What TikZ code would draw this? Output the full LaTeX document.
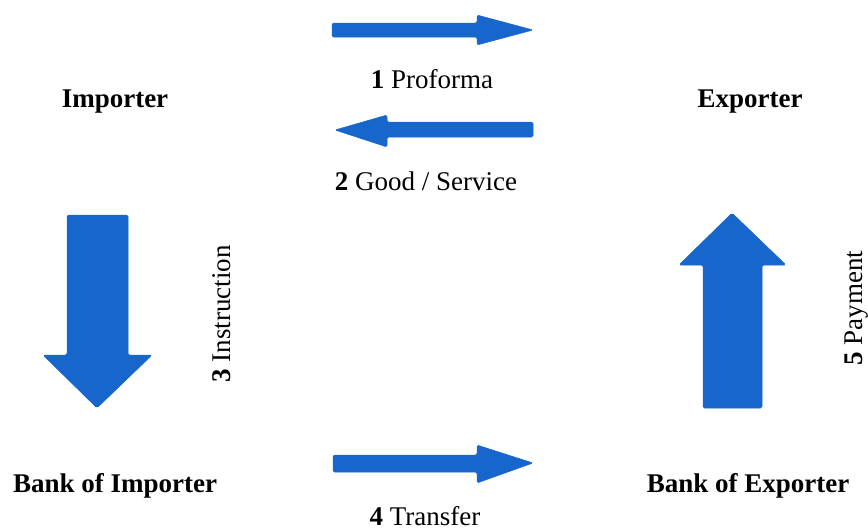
\documentclass[tikz,border=0pt]{standalone}
\usepackage{fontspec}
\setmainfont{Liberation Serif}
\usepackage{tikz}
\definecolor{flowblue}{RGB}{22,102,204}
\tikzset{
  party/.style={inner sep=0pt, anchor=base, font=\fontsize{27}{32}\selectfont\bfseries},
  step label/.style={inner sep=0pt, anchor=base, font=\fontsize{27}{32}\selectfont},
  blockarrow/.style={fill=flowblue, draw=flowblue, line width=0.5pt, rounded corners=1.5pt}
}

\begin{document}
\begin{tikzpicture}[x=1pt,y=-1pt]
\useasboundingbox (0,0) rectangle (868,531);

% parties
\node [party] (imp) at (115,107) {Importer};
\node [party] (exp) at (750,107) {Exporter};
\node [party] (bimp) at (115,492) {Bank of Importer};
\node [party] (bexp) at (748,492) {Bank of Exporter};

% 1 : importer -> exporter
\draw [blockarrow] (332,23) -- (477,23) -- (477,15) -- (533,30) -- (477,45) -- (477,37) -- (332,37) -- cycle;
\node [step label] (l1) at (432,88) {\textbf{1} Proforma};

% 2 : exporter -> importer
\draw [blockarrow] (533,122) -- (387,122) -- (387,115) -- (335,130) -- (387,147) -- (387,137) -- (533,137) -- cycle;
\node [step label] (l2) at (426,190) {\textbf{2} Good / Service};

% 3 : importer -> bank of importer
\draw [blockarrow] (67,215) -- (128,215) -- (128,355) -- (152,355) -- (97,408) -- (43,355) -- (67,355) -- cycle;
\node [step label, rotate=90] (l3) at (230,314) {\textbf{3} Instruction};

% 4 : bank of importer -> bank of exporter
\draw [blockarrow] (333,455) -- (477,455) -- (477,445) -- (533,463) -- (477,483) -- (477,472) -- (333,472) -- cycle;
\node [step label] (l4) at (425,525) {\textbf{4} Transfer};

% 5 : bank of exporter -> exporter
\draw [blockarrow] (703,408) -- (703,265) -- (679,265) -- (732,213) -- (786,265) -- (762,265) -- (762,408) -- cycle;
\node [step label, rotate=90] (l5) at (862,308) {\textbf{5} Payment};

\end{tikzpicture}
\end{document}
